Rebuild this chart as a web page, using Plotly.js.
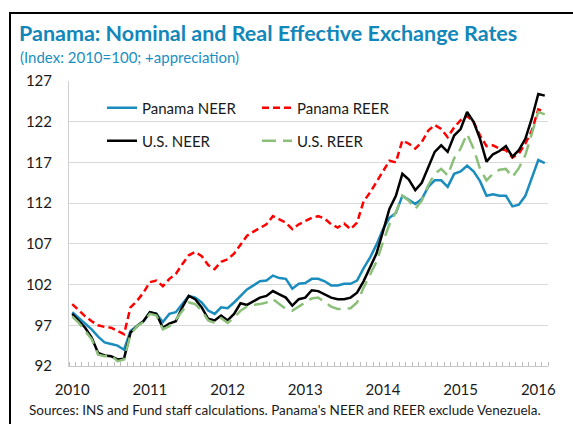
<!DOCTYPE html>
<html><head><meta charset="utf-8">
<script src="https://cdn.plot.ly/plotly-3.0.1.min.js"></script>
<style>html,body{margin:0;padding:0;background:#fff;} #chart{width:573px;height:424px;}</style>
</head><body><div id="chart"></div>
<script>
// Monthly categories, 2010M1 .. 2016M2
const months = [];
for (let y = 2010; y <= 2016; y++) for (let m = 1; m <= 12; m++) months.push(y + 'M' + m);
months.length = 74;
const yearLabels = ['2010', '2011', '2012', '2013', '2014', '2015', '2016'];
const yTicks = [92, 97, 102, 107, 112, 117, 122, 127];

const panamaNEER = [98.6, 97.9, 97.2, 96.5, 95.6, 94.9, 94.7, 94.5, 94.0, 96.3, 96.9, 97.5,
  98.6, 98.4, 97.4, 98.4, 98.6, 99.6, 100.6, 100.4, 99.8, 98.8, 98.4, 99.2,
  99.1, 99.8, 100.6, 101.4, 101.9, 102.4, 102.5, 103.1, 102.8, 102.7, 101.5, 102.1,
  102.2, 102.7, 102.7, 102.4, 101.9, 101.9, 102.1, 102.1, 102.5, 104.0, 105.3, 106.9,
  108.8, 110.2, 110.8, 112.9, 112.4, 111.9, 112.5, 114.0, 114.8, 114.8, 114.0, 115.6,
  115.9, 116.6, 115.9, 114.7, 112.9, 113.1, 112.9, 112.9, 111.6, 111.8, 112.9, 115.0,
  117.3, 116.9];
const panamaREER = [99.6, 98.8, 98.1, 97.5, 97.0, 96.8, 96.7, 96.3, 95.9, 99.2, 100.0, 101.0,
  102.3, 102.5, 101.8, 102.7, 103.3, 104.5, 105.6, 106.0, 105.5, 104.4, 103.9, 104.8,
  105.1, 105.8, 106.9, 108.0, 108.5, 109.0, 109.4, 110.4, 110.0, 109.6, 108.8, 109.4,
  109.8, 110.2, 110.4, 110.1, 109.4, 109.0, 109.5, 108.8, 109.6, 112.2, 113.3, 114.6,
  116.0, 117.2, 117.0, 119.7, 119.3, 118.7, 119.5, 120.9, 121.6, 121.1, 120.1, 121.3,
  122.2, 122.7, 122.0, 120.3, 119.0, 119.1, 118.7, 118.5, 117.6, 118.1, 119.3, 120.9,
  123.5, 123.2];
const usNEER = [98.4, 97.5, 96.7, 95.5, 93.6, 93.3, 93.2, 92.8, 92.9, 96.1, 96.9, 97.5,
  98.6, 98.4, 96.7, 97.2, 97.5, 99.2, 100.6, 100.2, 99.2, 97.8, 97.6, 98.2,
  97.6, 98.4, 99.7, 99.5, 100.0, 100.4, 100.6, 101.2, 100.8, 100.4, 99.4, 100.2,
  100.4, 101.3, 101.2, 100.8, 100.4, 100.2, 100.2, 100.4, 101.0, 102.4, 104.0, 105.8,
  108.5, 111.3, 112.9, 115.6, 114.9, 113.6, 114.5, 116.4, 118.3, 119.1, 118.3, 120.3,
  121.1, 123.2, 122.0, 119.9, 117.1, 118.0, 118.4, 119.0, 117.7, 118.5, 119.9, 122.4,
  125.4, 125.2];
const usREER = [98.1, 97.3, 96.3, 95.3, 93.4, 93.2, 93.3, 92.6, 92.8, 95.9, 96.9, 97.4,
  98.4, 98.2, 96.5, 96.9, 97.7, 98.8, 99.8, 99.6, 98.8, 97.6, 97.3, 97.9,
  97.3, 97.9, 98.8, 99.3, 99.5, 99.6, 99.8, 100.2, 99.6, 99.0, 98.8, 99.3,
  99.8, 100.3, 100.4, 99.8, 99.3, 99.0, 99.0, 99.1, 99.8, 101.6, 103.1, 104.8,
  107.2, 109.4, 110.9, 112.9, 112.3, 111.3, 112.3, 114.2, 115.6, 116.2, 115.4, 117.5,
  118.7, 120.5, 118.7, 116.2, 114.8, 115.6, 116.1, 116.2, 115.2, 116.3, 117.9, 120.5,
  123.2, 122.9];

const xIdx = months.map((_, i) => i);
const yearTickVals = yearLabels.map(y => months.indexOf(y + 'M1'));

// pixel helpers for layout placement (plot area: x 69..548, y 81..366)
const W = 573, H = 424, L = 69, R = 25, T = 81, B = 58;
const pw = W - L - R, ph = H - T - B;
const px = v => (v - L) / pw;
const py = v => (H - B - v) / ph;

const FONT = 'Lato, "Open Sans", sans-serif';

const mk = (name, y, color, dash, legend) => ({
  type: 'scatter', mode: 'lines', name: name, x: xIdx, y: y,
  line: {color: color, width: 2.5, dash: dash}, legend: legend, hoverinfo: 'skip'
});

const data = [
  mk('Panama NEER', panamaNEER, '#1a8cbd', 'solid', 'legend'),
  mk('Panama REER', panamaREER, '#ff0000', '7px,4px', 'legend'),
  mk('U.S. NEER', usNEER, '#000000', 'solid', 'legend2'),
  mk('U.S. REER', usREER, '#8cc07a', '14px,7px', 'legend2')
];

const legendCommon = {
  orientation: 'h', xanchor: 'left', yanchor: 'middle',
  bgcolor: 'rgba(0,0,0,0)', borderwidth: 0,
  font: {family: FONT, size: 15, color: '#1a1a1a'},
  entrywidth: 110, entrywidthmode: 'pixels', traceorder: 'normal'
};

const layout = {
  width: W, height: H,
  margin: {l: L, r: R, t: T, b: B, pad: 0},
  paper_bgcolor: '#ffffff', plot_bgcolor: '#ffffff',
  font: {family: FONT, color: '#1a1a1a'},
  title: {
    text: '<b>Panama: Nominal and Real Effective Exchange Rates</b>',
    font: {family: FONT, size: 21.5, color: '#1287b9'},
    xref: 'container', yref: 'container', x: 19 / W, xanchor: 'left',
    y: 1 - 33 / H, yanchor: 'middle'
  },
  showlegend: true,
  legend: Object.assign({}, legendCommon, {x: px(102), y: py(108)}),
  legend2: Object.assign({}, legendCommon, {x: px(102), y: py(141)}),
  xaxis: {
    range: [-0.5, months.length - 0.5],
    tickmode: 'array', tickvals: yearTickVals, ticktext: yearLabels,
    ticks: '', showgrid: false, zeroline: false,
    showline: true, linecolor: '#c8c8c8', linewidth: 1,
    tickfont: {family: FONT, size: 15, color: '#1a1a1a'},
    ticklabelstandoff: 10,
    minor: {tickmode: 'linear', tick0: -0.5, dtick: 1, ticks: 'inside', ticklen: 4, tickwidth: 1, tickcolor: '#bdbdbd', showgrid: false},
    fixedrange: true
  },
  yaxis: {
    range: [92, 127], tickmode: 'array', tickvals: yTicks,
    ticks: '', showgrid: true, gridcolor: '#d9d9d9', gridwidth: 1.2,
    zeroline: false, showline: true, linecolor: '#d0d0d0', linewidth: 1,
    tickfont: {family: FONT, size: 15, color: '#1a1a1a'},
    ticklabelstandoff: 13, fixedrange: true
  },
  annotations: [
    {text: '(Index: 2010=100; +appreciation)', xref: 'paper', yref: 'paper',
     x: px(18), y: py(57), xanchor: 'left', yanchor: 'middle', showarrow: false,
     font: {family: FONT, size: 15, color: '#1b8fc2'}},
    {text: "Sources: INS and Fund staff calculations. Panama's NEER and REER exclude Venezuela.",
     xref: 'paper', yref: 'paper', x: px(27), y: py(410), xanchor: 'left', yanchor: 'middle',
     showarrow: false, font: {family: FONT, size: 13.5, color: '#1a1a1a'}}
  ],
  shapes: [
    {type: 'rect', xref: 'paper', yref: 'paper', x0: px(10), x1: px(580), y0: py(440), y1: py(13),
     line: {color: '#000000', width: 2}, fillcolor: 'rgba(0,0,0,0)', layer: 'above'}
  ]
};

Plotly.newPlot('chart', data, layout, {displayModeBar: false, staticPlot: true});
</script>
</body></html>
